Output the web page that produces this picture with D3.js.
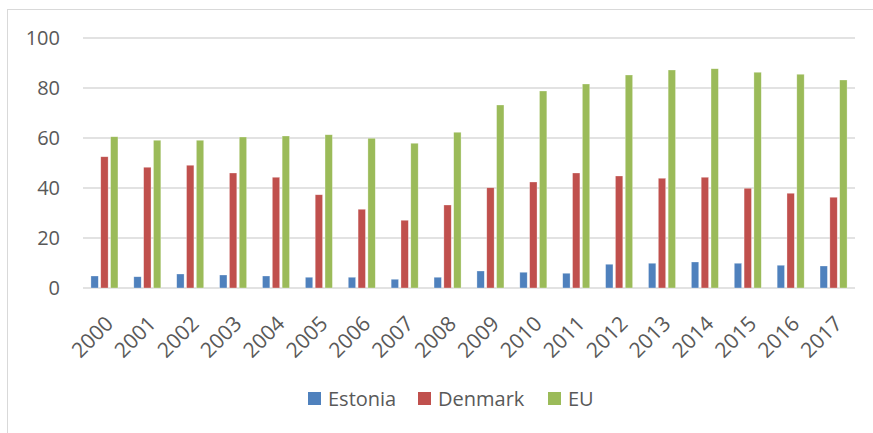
<!DOCTYPE html>
<html>
<head>
<meta charset="utf-8">
<script src="https://cdn.jsdelivr.net/npm/d3@7"></script>
<style>
    body { margin: 0; background: #fff; }
    text { font-family: "Open Sans", sans-serif; fill: #595959; }
</style>
</head>
<body>
<script>
//chart values
var years = ["2000", "2001", "2002", "2003", "2004", "2005", "2006", "2007", "2008",
    "2009", "2010", "2011", "2012", "2013", "2014", "2015", "2016", "2017"];
var seriesNames = ["Estonia", "Denmark", "EU"];
var estonia = [4.8, 4.5, 5.6, 5.2, 4.8, 4.3, 4.3, 3.5, 4.3, 6.8, 6.3, 5.9, 9.5, 9.9, 10.4, 9.9, 9.1, 8.8];
var denmark = [52.5, 48.3, 49.1, 46.0, 44.3, 37.3, 31.5, 27.1, 33.2, 40.1, 42.4, 46.0, 44.8, 43.9, 44.3, 39.9, 37.9, 36.3];
var eu = [60.5, 59.1, 59.1, 60.4, 60.8, 61.3, 59.9, 57.9, 62.3, 73.2, 78.8, 81.6, 85.2, 87.2, 87.7, 86.3, 85.5, 83.2];
var yTicks = [0, 20, 40, 60, 80, 100];
var colors = ["#4f81bd", "#c0504d", "#9bbb59"];

var w = 873, h = 433;
var values = [estonia, denmark, eu];

//svg container
var svg = d3.select("body")
    .append("svg")
    .attr("width", w)
    .attr("height", h);

//outer chart frame (runs off the right and bottom edge)
svg.append("rect")
    .attr("x", 7.5)
    .attr("y", 9.5)
    .attr("width", 900)
    .attr("height", 500)
    .style("fill", "none")
    .style("stroke", "#d9d9d9")
    .style("stroke-width", 1);

//scales
var x = d3.scaleBand()
    .domain(years)
    .range([83, 855])
    .paddingInner(0.37)
    .paddingOuter(0.185);

var x1 = d3.scaleBand()
    .domain(seriesNames)
    .range([0, x.bandwidth()])
    .paddingInner(0.25);

var y = d3.scaleLinear()
    .domain([0, 100])
    .range([288, 38]);

//gridlines
svg.selectAll(".grid")
    .data(yTicks)
    .enter()
    .append("line")
    .attr("class", "grid")
    .attr("x1", 83)
    .attr("x2", 855)
    .attr("y1", function(d){ return y(d); })
    .attr("y2", function(d){ return y(d); })
    .style("stroke", "#d9d9d9")
    .style("stroke-width", 1.5);

//y axis labels
var yAxis = d3.axisLeft(y)
    .tickValues(yTicks)
    .tickSize(0)
    .tickPadding(23);

var yAxisG = svg.append("g")
    .attr("transform", "translate(83,0)")
    .call(yAxis);
yAxisG.select(".domain").remove();
yAxisG.selectAll("text")
    .style("font-size", "20px")
    .style("fill", "#595959")
    .style("font-family", "Open Sans, sans-serif");

//bars, one group per year
var groups = svg.selectAll(".year")
    .data(years)
    .enter()
    .append("g")
    .attr("class", "year")
    .attr("transform", function(d){ return "translate(" + x(d) + ",0)"; });

groups.selectAll("rect")
    .data(function(d, i){
        return seriesNames.map(function(s, j){ return {s: s, v: values[j][i], j: j}; });
    })
    .enter()
    .append("rect")
    .attr("x", function(d){ return x1(d.s); })
    .attr("width", x1.bandwidth())
    .attr("y", function(d){ return y(d.v); })
    .attr("height", function(d){ return y(0) - y(d.v); })
    .style("fill", function(d){ return colors[d.j]; })
    .style("stroke", "#fff")
    .style("stroke-opacity", 0.5)
    .style("stroke-width", 0.6);

//x axis labels, rotated
var xAxis = d3.axisBottom(x)
    .tickSize(0)
    .tickPadding(0);

var xAxisG = svg.append("g")
    .attr("transform", "translate(0,288)")
    .call(xAxis);
xAxisG.select(".domain").remove();
xAxisG.selectAll("text")
    .attr("text-anchor", "end")
    .attr("dy", 0)
    .attr("transform", "translate(10,37) rotate(-45)")
    .style("font-size", "21px")
    .style("fill", "#595959")
    .style("font-family", "Open Sans, sans-serif");

//legend
var legendX = [308, 418, 548];
var legend = svg.selectAll(".legend")
    .data(seriesNames)
    .enter()
    .append("g")
    .attr("class", "legend")
    .attr("transform", function(d, i){ return "translate(" + legendX[i] + ",392)"; });

legend.append("rect")
    .attr("width", 13)
    .attr("height", 13)
    .style("fill", function(d, i){ return colors[i]; });

legend.append("text")
    .attr("x", 20)
    .attr("y", 13.5)
    .style("font-size", "20px")
    .text(function(d){ return d; });
</script>
</body>
</html>
